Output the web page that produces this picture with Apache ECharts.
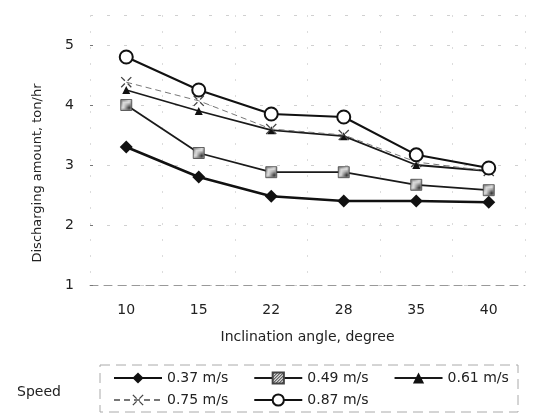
<!DOCTYPE html>
<html>
<head>
<meta charset="utf-8">
<script src="https://cdn.jsdelivr.net/npm/echarts@6/dist/echarts.min.js"></script>
<style>
  html, body { margin: 0; padding: 0; background: #fff; }
  #chart { width: 543px; height: 419px; }
</style>
</head>
<body>
<div id="chart"></div>
<script>
// Inclination angle categories (degree)
const angles = ['10', '15', '22', '28', '35', '40'];

// Discharging amount (ton/hr) per belt speed
const speed037 = [3.3, 2.8, 2.48, 2.4, 2.4, 2.38];
const speed049 = [4.0, 3.2, 2.88, 2.88, 2.67, 2.58];
const speed061 = [4.25, 3.9, 3.58, 3.48, 3.0, 2.9];
const speed075 = [4.38, 4.07, 3.6, 3.5, 3.05, 2.9];
const speed087 = [4.8, 4.25, 3.85, 3.8, 3.17, 2.95];

const speedNames = ['0.37 m/s', '0.49 m/s', '0.61 m/s', '0.75 m/s', '0.87 m/s'];

const FONT = 'DejaVu Sans';

// Small checkered tile used to fill the square markers
function makeTile() {
  const c = document.createElement('canvas');
  c.width = 3; c.height = 3;
  const g = c.getContext('2d');
  g.fillStyle = '#d8d8d8';
  g.fillRect(0, 0, 3, 3);
  g.fillStyle = '#333';
  g.fillRect(0, 0, 1, 1);
  g.fillRect(2, 1, 1, 1);
  g.fillRect(1, 2, 1, 1);
  return c;
}

// Four short diagonal dashes forming a broken "x"
const crossPath = 'path://M0,1 L1,0 L5,4 L4,5 Z M11,0 L12,1 L8,5 L7,4 Z M0,11 L4,7 L5,8 L1,12 Z M12,11 L8,7 L7,8 L11,12 Z';

const chart = echarts.init(document.getElementById('chart'), null, { renderer: 'canvas' });

const legendText = { fontFamily: FONT, fontSize: 14, color: '#222' };

chart.setOption({
  animation: false,
  backgroundColor: '#fff',
  grid: { left: 90, right: 18, top: 15, bottom: 134 },
  xAxis: {
    type: 'category',
    data: angles,
    boundaryGap: true,
    name: 'Inclination angle, degree',
    nameLocation: 'middle',
    nameGap: 45,
    nameTextStyle: { fontFamily: FONT, fontSize: 14, color: '#222' },
    axisLine: { show: true, lineStyle: { color: '#999', type: [8, 6], width: 1 } },
    axisTick: { show: false },
    axisLabel: { margin: 18, fontFamily: FONT, fontSize: 14, color: '#222' },
    splitLine: { show: true, lineStyle: { color: '#dcdcdc', type: [2, 14], width: 1 } }
  },
  yAxis: {
    type: 'value',
    min: 1,
    max: 5.5,
    interval: 1,
    name: 'Discharging amount, ton/hr',
    nameLocation: 'middle',
    nameGap: 46,
    nameRotate: 90,
    nameTextStyle: { fontFamily: FONT, fontSize: 13, color: '#222', padding: [0, 46, 0, 0] },
    axisLine: { show: false },
    axisTick: { show: true, inside: true, length: 3, lineStyle: { color: '#777' } },
    axisLabel: { margin: 16, fontFamily: FONT, fontSize: 14, color: '#222', showMaxLabel: false },
    splitLine: { show: true, lineStyle: { color: '#d0d0d0', type: [3, 14], width: 1 } }
  },
  legend: [
    {
      data: speedNames.slice(0, 3),
      left: 113, top: 371, padding: 0,
      itemWidth: 48, itemHeight: 14, itemGap: 25,
      textStyle: legendText,
      selectedMode: false
    },
    {
      data: speedNames.slice(3),
      left: 113, top: 393, padding: 0,
      itemWidth: 48, itemHeight: 14, itemGap: 25,
      textStyle: legendText,
      selectedMode: false
    }
  ],
  graphic: [
    {
      type: 'rect',
      shape: { x: 100, y: 365, width: 418, height: 47 },
      style: { fill: 'none', stroke: '#aaa', lineWidth: 1, lineDash: [10, 6] },
      z: -1
    },
    {
      type: 'text',
      left: 17,
      top: 385,
      style: { text: 'Speed', font: '14px "DejaVu Sans"', fill: '#222' }
    }
  ],
  series: [
    {
      name: speedNames[0], type: 'line', data: speed037,
      symbol: 'diamond', symbolSize: 13,
      itemStyle: { color: '#111' },
      lineStyle: { color: '#111', width: 2.5 },
      z: 2
    },
    {
      name: speedNames[1], type: 'line', data: speed049,
      symbol: 'rect', symbolSize: 11,
      itemStyle: { color: { image: makeTile(), repeat: 'repeat' }, borderColor: '#444', borderWidth: 0.8 },
      lineStyle: { color: '#1a1a1a', width: 1.8 },
      z: 3
    },
    {
      name: speedNames[2], type: 'line', data: speed061,
      symbol: 'triangle', symbolSize: 8,
      itemStyle: { color: '#111' },
      lineStyle: { color: '#1a1a1a', width: 1.8 },
      z: 4
    },
    {
      name: speedNames[3], type: 'line', data: speed075,
      symbol: crossPath, symbolSize: 11,
      itemStyle: { color: '#444' },
      lineStyle: { color: '#777', width: 1, type: [6, 4] },
      z: 5
    },
    {
      name: speedNames[4], type: 'line', data: speed087,
      symbol: 'circle', symbolSize: 13,
      itemStyle: { color: '#fff', borderColor: '#111', borderWidth: 2 },
      lineStyle: { color: '#111', width: 2 },
      z: 6
    }
  ]
});
</script>
</body>
</html>
